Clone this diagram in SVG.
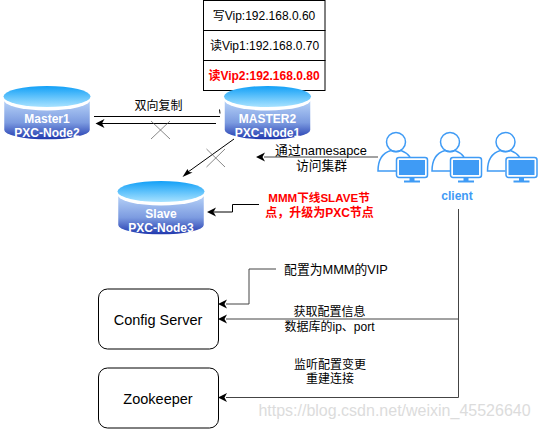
<svg xmlns="http://www.w3.org/2000/svg" width="540" height="429" viewBox="0 0 540 429">
<defs>
<linearGradient id="body" x1="0" y1="0" x2="0" y2="1"><stop offset="0.150" stop-color="#b0ccf5"/><stop offset="0.600" stop-color="#7c9be0"/><stop offset="1" stop-color="#1c34ac"/></linearGradient>
<linearGradient id="top" x1="0" y1="0" x2="0" y2="1"><stop offset="0" stop-color="#12a0f7"/><stop offset="1" stop-color="#a8e2ff"/></linearGradient>
<path id="tip" d="M0,0 L9,-4.500 L6.500,0 L9,4.500 Z" fill="#000"/>
<g id="cyl"><path d="M0,10.500 V44 A43,10 0 0 0 87,44 V10.500 Z" fill="url(#body)" stroke="#fff" stroke-width="1.500"/><ellipse cx="43.500" cy="13" rx="44" ry="11.500" fill="#fff"/><ellipse cx="43.500" cy="10.500" rx="43.500" ry="10.500" fill="url(#top)"/></g>
<g id="user"><circle cx="0" cy="0" r="9.500" fill="#fff" stroke="#3f9bf5" stroke-width="1.500"/><path d="M14,15 C11,11 8,9.500 5,8.500 C2,10 -2,10 -5,8.500 C-12,10.500 -18,16 -18,29 H0" fill="none" stroke="#3f9bf5" stroke-width="1.500"/><rect x="0.500" y="15.500" width="31" height="20" rx="2.500" fill="#fff" stroke="#3f9bf5" stroke-width="1.500"/><rect x="3" y="18" width="26" height="15" fill="#3f9bf5"/><path d="M13.500,36 H18.500 V38.500 H24 V40.500 H8 V38.500 H13.500 Z" fill="#3f9bf5"/></g>
</defs>
<style>
text{font-family:"Liberation Sans","Noto Sans CJK SC",sans-serif;font-size:12px;fill:#000;text-anchor:middle}
.db{font-weight:bold;fill:#fff;font-size:12px}
.red{font-weight:bold;fill:#f00}
.box{fill:#fff;stroke:#000;stroke-width:1}
.ln{fill:none;stroke:#000;stroke-width:1}
.gr{fill:none;stroke:#444;stroke-width:1}
.x{fill:none;stroke:#555;stroke-width:0.700}
.lg{font-size:12.800px}
</style>
<g id="vip-table">
<rect class="box" x="203.500" y="0.500" width="121.500" height="30"/><text x="264" y="20">写Vip:192.168.0.60</text>
<rect class="box" x="203.500" y="30.500" width="121.500" height="30"/><text x="264.500" y="50">读Vip1:192.168.0.70</text>
<rect class="box" x="203.500" y="60.500" width="121.500" height="30"/><text class="red" x="264" y="80">读Vip2:192.168.0.80</text>
</g>
<g id="connectors">
<path class="ln" d="M94,116.500 H220"/>
<path class="ln" d="M219.500,109.500 L220,113.500"/>
<path class="ln" d="M102,123.500 H216"/>
<use href="#tip" x="95.500" y="123.500"/>
<path class="x" d="M151,121 L170,139 M170,121 L151,139"/>
<path class="ln" d="M234,139 L188,172"/>
<path d="M182.500,177 L187.500,169 L189,172 L192.500,172.500 Z" fill="#000"/>
<path class="x" d="M206.500,149 L225,167 M225,149 L206.500,167"/>
<path class="gr" d="M378,157 H264"/>
<use href="#tip" x="256" y="157"/>
<path class="ln" d="M259,204.500 H232.500 V212 H214"/>
<use href="#tip" x="207" y="212"/>
<path class="gr" d="M458.500,209 V397.500 H226"/>
<path class="gr" d="M458.500,319 H226"/>
<use href="#tip" x="218" y="319"/>
<use href="#tip" x="218" y="397.500"/>
<path class="gr" d="M276,269 H249 V304 H226"/>
<use href="#tip" x="218" y="304"/>
</g>
<g id="master1"><use href="#cyl" x="3.500" y="86"/><text class="db" x="47" y="122.500">Master1</text><text class="db" x="47" y="137">PXC-Node2</text></g>
<g id="master2"><use href="#cyl" x="224" y="86"/><text class="db" x="267.500" y="122.500">MASTER2</text><text class="db" x="267.500" y="137">PXC-Node1</text></g>
<g id="slave"><use href="#cyl" x="117.500" y="181"/><text class="db" x="161" y="218">Slave</text><text class="db" x="161" y="232">PXC-Node3</text></g>
<g id="clients"><use href="#user" x="396" y="142"/><use href="#user" x="450" y="142"/><use href="#user" x="505.500" y="142"/><text x="457" y="200" style="fill:#3f9bf5;font-weight:bold;font-size:12px">client</text></g>
<g id="config-server"><rect class="box" x="98.500" y="289" width="120" height="60" rx="9"/><text x="158" y="325" style="font-size:14.500px">Config Server</text></g>
<g id="zookeeper"><rect class="box" x="98.500" y="368" width="120" height="60" rx="9"/><text x="158" y="404" style="font-size:14.500px">Zookeeper</text></g>
<g id="labels">
<text x="158.500" y="110">双向复制</text>
<text class="lg" x="321" y="155">通过namesapce</text>
<text class="lg" x="321.500" y="170">访问集群</text>
<text class="red" x="319" y="202" style="font-size:11.600px">MMM下线SLAVE节</text>
<text class="red" x="319.500" y="217">点，升级为PXC节点</text>
<text class="lg" x="336" y="274">配置为MMM的VIP</text>
<text x="329.500" y="316">获取配置信息</text>
<text x="329.500" y="331">数据库的ip、port</text>
<text x="330" y="369">监听配置变更</text>
<text x="330" y="383">重建连接</text>
<text x="394.500" y="416" style="font-size:16px;fill:#dcdcdc">https://blog.csdn.net/weixin_45526640</text>
</g>
</svg>
